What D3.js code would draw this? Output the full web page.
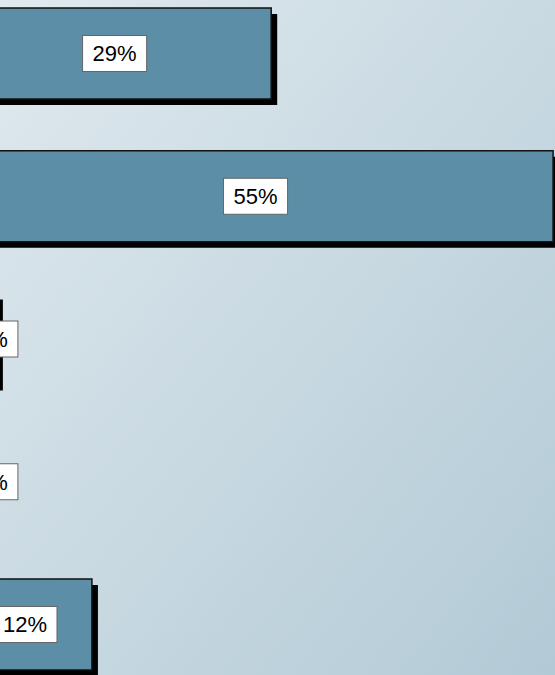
<!DOCTYPE html>
<html><head><meta charset="utf-8">
<script src="https://cdn.jsdelivr.net/npm/d3@7"></script>
<style>html,body{margin:0;padding:0;overflow:hidden;}svg{display:block;}</style>
</head><body>
<script>
const categories = ["A", "B", "C", "D", "E"];
const values = [29.0, 55.1, 3.6, 1.0, 12.4];
const labels = ["29%", "55%", "4%", "1%", "12%"];

const W = 555, H = 675;
const svg = d3.select("body").append("svg").attr("width", W).attr("height", H);
const defs = svg.append("defs");
const g = defs.append("linearGradient").attr("id", "bg")
  .attr("x1", "0%").attr("y1", "0%").attr("x2", "100%").attr("y2", "100%");
g.append("stop").attr("offset", "0%").attr("stop-color", "#e0e9ee");
g.append("stop").attr("offset", "100%").attr("stop-color", "#b2cad6");
svg.append("rect").attr("width", W).attr("height", H).attr("fill", "url(#bg)");

const x = d3.scaleLinear().domain([0, 60]).range([-42, -42 + 60 * 10.8]);
const step = 142.75;
const pIn = 1 - 91 / step;
const y = d3.scaleBand().domain(categories)
  .range([8 - pIn / 2 * step, 8 - pIn / 2 * step + 5 * step])
  .paddingInner(pIn).paddingOuter(pIn / 2);

const data = categories.map((c, i) => ({c, v: values[i], l: labels[i]}));
const off = 6;
const bars = svg.append("g");
bars.selectAll("rect.sh").data(data).join("rect").attr("class", "sh")
  .attr("x", x(0) + off).attr("y", d => y(d.c) + off)
  .attr("width", d => x(d.v) - x(0)).attr("height", y.bandwidth())
  .attr("fill", "#000");
bars.selectAll("rect.bar").data(data).join("rect").attr("class", "bar")
  .attr("x", x(0)).attr("y", d => y(d.c))
  .attr("width", d => x(d.v) - x(0)).attr("height", y.bandwidth())
  .attr("fill", "#5c8fa7").attr("stroke", "#111").attr("stroke-width", 1.5);

const lab = svg.append("g").selectAll("g").data(data).join("g")
  .attr("transform", d => `translate(${Math.max((x(0) + x(d.v)) / 2, -8)},${y(d.c) + y.bandwidth() / 2})`);
lab.each(function(d) {
  const s = d3.select(this);
  const t = s.append("text").text(d.l)
    .attr("font-family", "Arial, 'Liberation Sans', sans-serif").attr("font-size", 22)
    .attr("text-anchor", "middle").attr("dy", "0.36em").attr("fill", "#000");
  const w = t.node().getComputedTextLength() + 20;
  s.insert("rect", "text").attr("x", -w / 2).attr("y", -18).attr("width", w).attr("height", 36)
    .attr("fill", "#fff").attr("stroke", "#666").attr("stroke-width", 1);
});
</script>
</body></html>
